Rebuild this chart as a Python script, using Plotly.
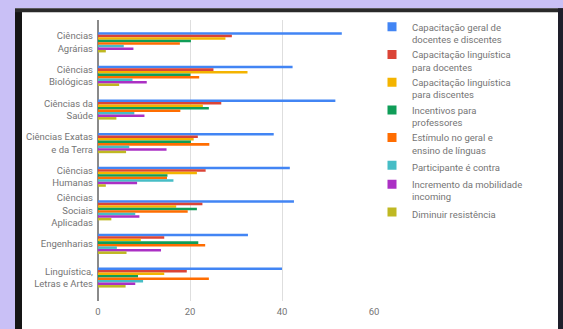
import plotly.graph_objects as go

categories = ["Ciências<br>Agrárias", "Ciências<br>Biológicas", "Ciências da<br>Saúde",
              "Ciências Exatas<br>e da Terra", "Ciências<br>Humanas",
              "Ciências<br>Sociais<br>Aplicadas", "Engenharias", "Linguística,<br>Letras e Artes"]

series_names = ["Capacitação geral de<br>docentes e discentes",
                "Capacitação linguística<br>para docentes",
                "Capacitação linguística<br>para discentes",
                "Incentivos para<br>professores",
                "Estímulo no geral e<br>ensino de línguas",
                "Participante é contra",
                "Incremento da mobilidade<br>incoming",
                "Diminuir resistência"]

cap_geral = [53, 42.3, 51.6, 38.2, 41.7, 42.6, 32.6, 40]
cap_ling_doc = [29.1, 25.1, 26.8, 21.7, 23.4, 22.7, 14.4, 19.3]
cap_ling_disc = [27.7, 32.5, 22.8, 20.8, 21.5, 17, 9.3, 14.4]
incentivos = [20.2, 20.1, 24.1, 20.2, 15.1, 21.5, 21.8, 8.7]
estimulo = [17.8, 22, 17.9, 24.2, 15, 19.5, 23.3, 24.1]
contra = [5.6, 7.5, 7.9, 6.8, 16.4, 8.1, 4.1, 9.8]
mobilidade = [7.7, 10.6, 10.1, 14.9, 8.5, 9, 13.7, 8.1]
resistencia = [1.7, 4.6, 4.0, 6.1, 1.7, 2.9, 6.2, 6]

all_series = [cap_geral, cap_ling_doc, cap_ling_disc, incentivos, estimulo, contra, mobilidade, resistencia]
colors = ["#4285f4", "#db4437", "#f4b400", "#0f9d58", "#ff6d01", "#46bdc6", "#ab30c4", "#bfb822"]

x_ticks = [0, 20, 40, 60]

fig = go.Figure()
for name, vals, col in zip(series_names, all_series, colors):
    fig.add_trace(go.Bar(x=vals, y=categories, orientation="h", marker=dict(color=col, line=dict(width=0)),
                         name=name, showlegend=False))
for name, col in zip(series_names, colors):
    fig.add_trace(go.Scatter(x=[None], y=[None], mode="markers", name=name,
                             marker=dict(symbol="square", size=9, color=col)))

W, H = 563, 329
L, R, T, B = 98, 189, 20, 22
pw, ph = W - L - R, H - T - B

def px(x):
    return (x - L) / pw

def py(y):
    return (H - B - y) / ph

lav = "#c9c0f6"
shapes = [
    dict(type="rect", xref="paper", yref="paper", x0=px(-5), x1=px(570), y0=py(-5), y1=py(8),
         fillcolor=lav, line=dict(width=0), layer="below"),
    dict(type="rect", xref="paper", yref="paper", x0=px(-5), x1=px(15), y0=py(-5), y1=py(340),
         fillcolor=lav, line=dict(width=0), layer="below"),
    dict(type="rect", xref="paper", yref="paper", x0=px(15), x1=px(22), y0=py(9), y1=py(340),
         fillcolor="#151515", line=dict(width=0), layer="below"),
    dict(type="rect", xref="paper", yref="paper", x0=px(15), x1=px(563), y0=py(8), y1=py(12),
         fillcolor="#2a2a2a", line=dict(width=0), layer="below"),
    dict(type="rect", xref="paper", yref="paper", x0=px(558), x1=px(570), y0=py(8), y1=py(340),
         fillcolor="#1e1e2a", line=dict(width=0), layer="below"),
]

fig.update_layout(
    width=W, height=H,
    margin=dict(l=L, r=R, t=T, b=B, pad=0),
    paper_bgcolor="white",
    plot_bgcolor="rgba(0,0,0,0)",
    font=dict(family="Roboto", size=9.5, color="#757575"),
    barmode="group", bargap=0.4, bargroupgap=0,
    shapes=shapes,
    showlegend=True,
    legend=dict(x=px(372), y=py(14), xanchor="left", yanchor="top", valign="top",
                font=dict(size=9.5, color="#757575"), bgcolor="rgba(0,0,0,0)",
                tracegroupgap=0, maxheight=310),
)
fig.update_xaxes(range=[0, 60], tickvals=x_ticks, ticktext=[str(v) for v in x_ticks],
                 showgrid=True, gridcolor="#dedede", gridwidth=1,
                 zeroline=True, zerolinecolor="#8a8a8a", zerolinewidth=1.5,
                 showline=False, ticks="", fixedrange=True, ticklabelstandoff=3)
fig.update_yaxes(type="category", categoryorder="array", categoryarray=categories,
                 range=[7.70, -0.665], showgrid=False, zeroline=False, showline=False,
                 ticks="", ticklabelstandoff=4)

fig.write_html("out.html")
